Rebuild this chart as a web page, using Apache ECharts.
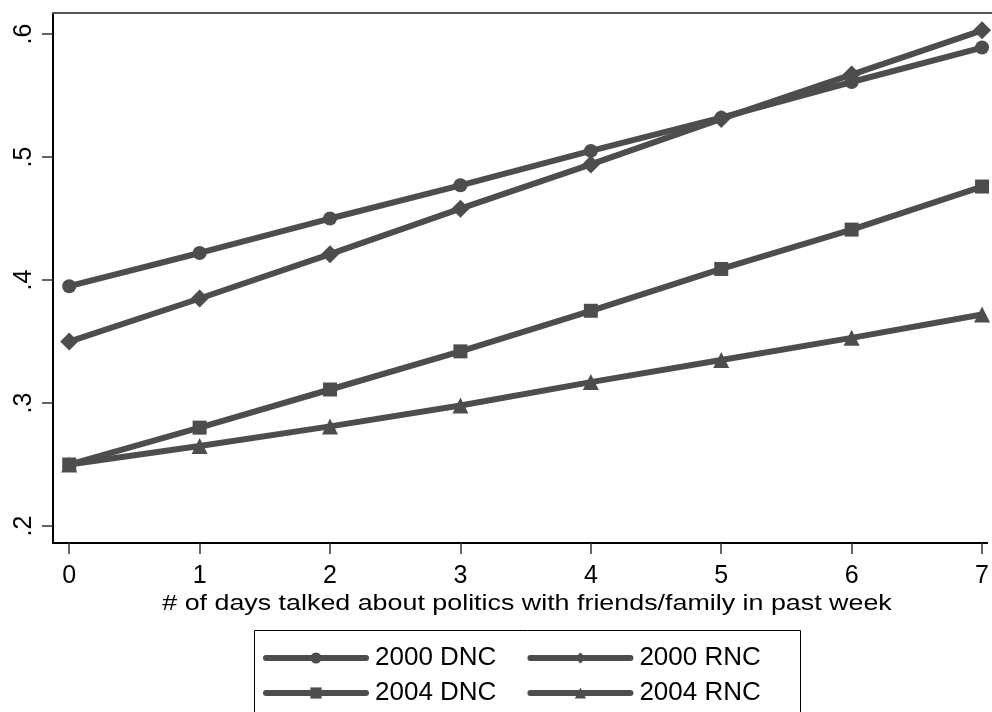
<!DOCTYPE html>
<html>
<head>
<meta charset="utf-8">
<script src="https://cdn.jsdelivr.net/npm/echarts@6/dist/echarts.min.js"></script>
<style>html,body{margin:0;padding:0;background:#fff}#c{width:992px;height:712px}</style>
</head>
<body>
<div id="c"></div>
<script>
const days = [0, 1, 2, 3, 4, 5, 6, 7];
const dnc2000 = [0.395, 0.422, 0.450, 0.477, 0.505, 0.532, 0.561, 0.589];
const rnc2000 = [0.350, 0.385, 0.421, 0.458, 0.494, 0.531, 0.567, 0.603];
const dnc2004 = [0.250, 0.280, 0.311, 0.342, 0.375, 0.409, 0.441, 0.476];
const rnc2004 = [0.250, 0.265, 0.281, 0.298, 0.317, 0.335, 0.353, 0.372];
const yTicks = [0.2, 0.3, 0.4, 0.5, 0.6];
const yTickLabels = ['.2', '.3', '.4', '.5', '.6'];
const xTitle = '# of days talked about politics with friends/family in past week';
const names = ['2000 DNC', '2000 RNC', '2004 DNC', '2004 RNC'];

const col = '#4d4d4d';
const font = 'Liberation Sans, Arial, sans-serif';
function mk(name, vals, sym, size) {
  return {
    name: name, type: 'line', data: days.map((d, i) => [d, vals[i]]),
    symbol: sym, symbolSize: size, showSymbol: true,
    lineStyle: { color: col, width: 6 }, itemStyle: { color: col },
    animation: false, z: 3
  };
}
const chart = echarts.init(document.getElementById('c'));
const legendBase = {
  left: 254, itemWidth: 100, itemHeight: 14, itemGap: 31,
  padding: [0, 0, 0, 9],
  lineStyle: { width: 6, cap: 'round' },
  textStyle: { color: '#000', fontSize: 26, fontFamily: font, padding: [0, 0, 0, 4] }
};
chart.setOption({
  backgroundColor: '#fff',
  animation: false,
  grid: { left: 53, top: 13, right: 0, bottom: 169, show: false, containLabel: false },
  xAxis: {
    type: 'value', min: -0.1244, max: 7.040,
    axisLine: { show: true, onZero: false, lineStyle: { color: '#000', width: 2 } },
    axisTick: { show: true, length: 11, lineStyle: { color: '#333', width: 1.5 }, customValues: days },
    axisLabel: { customValues: days, fontSize: 25, fontFamily: font, color: '#000', margin: 21 },
    splitLine: { show: false }
  },
  yAxis: {
    type: 'value', min: 0.1862, max: 0.6171,
    axisLine: { show: true, onZero: false, lineStyle: { color: '#000', width: 2 } },
    axisTick: { show: true, length: 11, lineStyle: { color: '#333', width: 1.5 }, customValues: yTicks },
    axisLabel: { customValues: yTicks, rotate: 90, fontSize: 25, fontFamily: font, color: '#000', margin: 16,
      formatter: v => yTickLabels[yTicks.findIndex(t => Math.abs(t - v) < 1e-6)] || '' },
    splitLine: { show: false }
  },
  legend: [
    Object.assign({}, legendBase, { top: 645, data: [names[0], names[1]] }),
    Object.assign({}, legendBase, { top: 680, data: [names[2], names[3]] })
  ],
  graphic: [
    { type: 'line', shape: { x1: 52, y1: 13, x2: 992, y2: 13 }, style: { stroke: '#555', lineWidth: 2 }, z: 5 },
    { type: 'rect', shape: { x: 254.5, y: 630.5, width: 546, height: 100 },
      style: { fill: 'none', stroke: '#000', lineWidth: 1 }, z: -1 },
    { type: 'text', x: 527, y: 604, scaleX: 1.22, scaleY: 1, originX: 0, originY: 0,
      style: { text: xTitle, fontSize: 22, fontFamily: font, fill: '#000', align: 'center', verticalAlign: 'middle' } }
  ],
  series: [
    mk(names[0], dnc2000, 'circle', 14),
    mk(names[1], rnc2000, 'diamond', 18),
    mk(names[2], dnc2004, 'rect', 14),
    mk(names[3], rnc2004, 'triangle', 16)
  ]
});
</script>
</body>
</html>
